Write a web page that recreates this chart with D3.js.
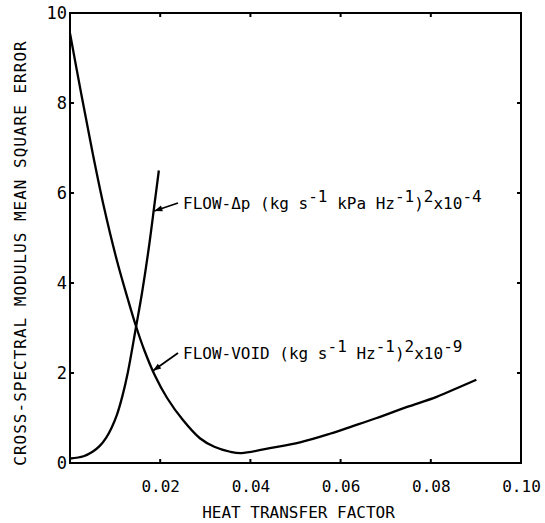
<!DOCTYPE html>
<html><head><meta charset="utf-8">
<script src="https://cdn.jsdelivr.net/npm/d3@7"></script>
<style>body{margin:0;background:#fff}svg{display:block}text{font-family:"DejaVu Sans Mono",monospace;fill:#000}</style>
</head><body>
<script>
// Data
const voidX = [0, 0.0025, 0.005, 0.0075, 0.0104, 0.0128, 0.0146, 0.0165, 0.0188, 0.0215, 0.025, 0.0288, 0.032, 0.0355, 0.038, 0.0443, 0.051, 0.0576, 0.0627, 0.068, 0.0746, 0.0813, 0.0864, 0.0901];
const voidY = [9.55, 8.2, 6.9, 5.7, 4.5, 3.65, 3.05, 2.5, 1.95, 1.45, 0.96, 0.55, 0.36, 0.25, 0.22, 0.33, 0.46, 0.65, 0.82, 1.0, 1.24, 1.47, 1.69, 1.85];
const dpX = [0, 0.003, 0.005, 0.0066, 0.008, 0.0092, 0.0104, 0.0116, 0.0128, 0.0146, 0.016, 0.0175, 0.0188, 0.0197];
const dpY = [0.1, 0.15, 0.25, 0.38, 0.56, 0.78, 1.07, 1.48, 2.0, 3.0, 3.8, 4.8, 5.8, 6.5];
const xTicks = [0.02, 0.04, 0.06, 0.08, 0.10];
const xTickLabels = ["0.02", "0.04", "0.06", "0.08", "0.10"];
const yTicks = [0, 2, 4, 6, 8, 10];
const yTickLabels = ["0", "2", "4", "6", "8", "10"];
const xTitle = "HEAT TRANSFER FACTOR";
const yTitle = "CROSS-SPECTRAL MODULUS MEAN SQUARE ERROR";

const W = 545, H = 523;
const svg = d3.select("body").append("svg").attr("width", W).attr("height", H);
const x = d3.scaleLinear().domain([0, 0.1]).range([70, 521]);
const y = d3.scaleLinear().domain([0, 10]).range([463, 13]);

// frame
svg.append("rect").attr("x", x(0)).attr("y", y(10)).attr("width", x(0.1) - x(0)).attr("height", y(0) - y(10))
  .attr("fill", "none").attr("stroke", "#000").attr("stroke-width", 2);

const tl = 4;
const xAxis = d3.axisBottom(x).tickValues(xTicks).tickSize(0).tickFormat((d, i) => xTickLabels[i]).tickPadding(18);
const gx = svg.append("g").attr("transform", `translate(0,${y(0)})`).call(xAxis);
gx.select(".domain").remove();
gx.selectAll("text").attr("font-size", 16).attr("font-family", "DejaVu Sans Mono");
const yAxis = d3.axisLeft(y).tickValues(yTicks).tickSize(0).tickFormat((d, i) => yTickLabels[i]).tickPadding(3);
const gy = svg.append("g").attr("transform", `translate(${x(0)},0)`).call(yAxis);
gy.select(".domain").remove();
gy.selectAll("text").attr("font-size", 17).attr("font-family", "DejaVu Sans Mono");

const inner = xTicks.filter(d => d < 0.1);
svg.selectAll(".tb").data(inner).enter().append("line").attr("x1", d => x(d)).attr("x2", d => x(d))
  .attr("y1", y(0)).attr("y2", y(0) - tl).attr("stroke", "#000").attr("stroke-width", 2);
svg.selectAll(".tt").data(inner).enter().append("line").attr("x1", d => x(d)).attr("x2", d => x(d))
  .attr("y1", y(10)).attr("y2", y(10) + tl).attr("stroke", "#000").attr("stroke-width", 2);
const innerY = yTicks.filter(d => d > 0 && d < 10);
svg.selectAll(".tl").data(innerY).enter().append("line").attr("x1", x(0)).attr("x2", x(0) + tl)
  .attr("y1", d => y(d)).attr("y2", d => y(d)).attr("stroke", "#000").attr("stroke-width", 2);
svg.selectAll(".tr").data(innerY).enter().append("line").attr("x1", x(0.1)).attr("x2", x(0.1) - tl)
  .attr("y1", d => y(d)).attr("y2", d => y(d)).attr("stroke", "#000").attr("stroke-width", 2);

// curves
const line = d3.line().x(d => x(d[0])).y(d => y(d[1])).curve(d3.curveCatmullRom.alpha(0.5));
svg.append("path").datum(voidX.map((v, i) => [v, voidY[i]])).attr("d", line)
  .attr("fill", "none").attr("stroke", "#000").attr("stroke-width", 2.3);
svg.append("path").datum(dpX.map((v, i) => [v, dpY[i]])).attr("d", line)
  .attr("fill", "none").attr("stroke", "#000").attr("stroke-width", 2.3);

// titles
svg.append("text").attr("x", (x(0) + x(0.1)) / 2 + 3).attr("y", 518).attr("text-anchor", "middle")
  .attr("font-size", 16).text(xTitle);
svg.append("text").attr("transform", `translate(26,${253}) rotate(-90)`).attr("text-anchor", "middle")
  .attr("font-size", 16).attr("letter-spacing", 1.0).text(yTitle);

// annotations with leader arrows
function arrow(x1, y1, x2, y2) {
  svg.append("line").attr("x1", x1).attr("y1", y1).attr("x2", x2).attr("y2", y2)
    .attr("stroke", "#000").attr("stroke-width", 1.8);
  const ang = Math.atan2(y2 - y1, x2 - x1), L = 8, w = 3;
  const bx = x2 - L * Math.cos(ang), by = y2 - L * Math.sin(ang);
  svg.append("path").attr("d", `M${x2},${y2}L${bx - w * Math.sin(ang)},${by + w * Math.cos(ang)}L${bx + w * Math.sin(ang)},${by - w * Math.cos(ang)}Z`).attr("fill", "#000");
}
function label(x0, y0, parts) {
  const t = svg.append("text").attr("x", x0).attr("y", y0).attr("font-size", 16);
  parts.forEach(p => {
    t.append("tspan").attr("baseline-shift", p[1] ? "7" : "0").text(p[0]);
  });
}
arrow(178, 203, x(0.0187), y(5.6));
label(183, 209, [["FLOW-Δp (kg s", 0], ["-1", 1], [" kPa Hz", 0], ["-1", 1], [")", 0], ["2", 1], ["x10", 0], ["-4", 1]]);
arrow(178, 353, x(0.0184), y(2.05));
label(183, 359, [["FLOW-VOID (kg s", 0], ["-1", 1], [" Hz", 0], ["-1", 1], [")", 0], ["2", 1], ["x10", 0], ["-9", 1]]);
</script>
</body></html>
